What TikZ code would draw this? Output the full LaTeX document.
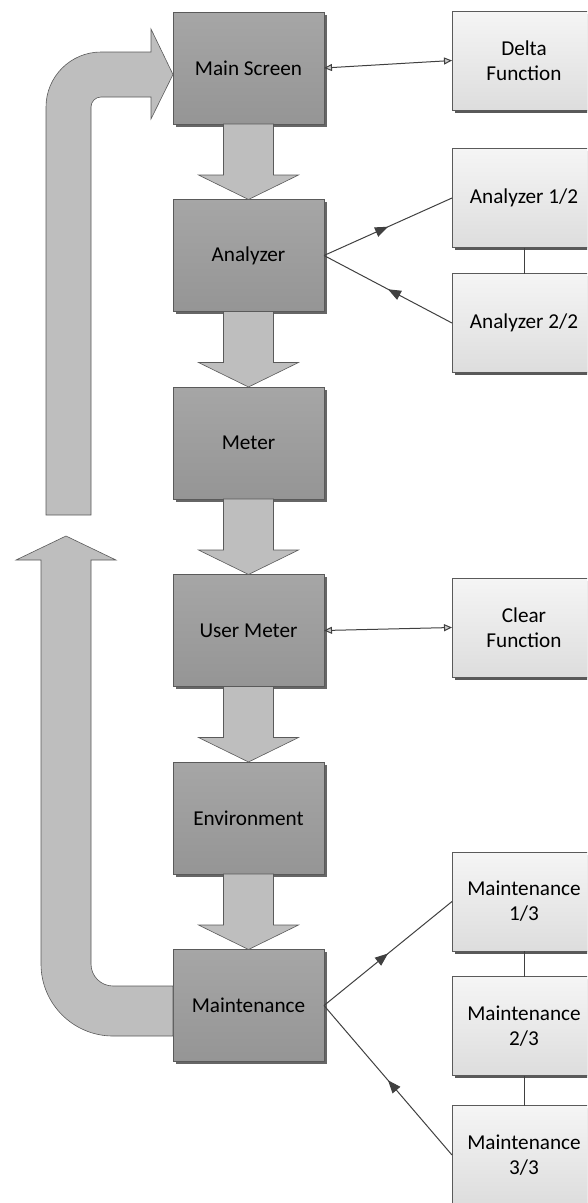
\documentclass[tikz,border=0pt]{standalone}
\usepackage{fontspec}
\setmainfont{Carlito}
\usepackage{tikz}
\usetikzlibrary{arrows.meta,positioning,calc,shadows,decorations.markings}

\definecolor{boxtop}{HTML}{A6A6A6}
\definecolor{boxbot}{HTML}{959595}
\definecolor{sidetop}{HTML}{F5F5F5}
\definecolor{sidebot}{HTML}{DDDDDD}
\definecolor{arrowfill}{HTML}{BEBEBE}
\definecolor{edgegray}{HTML}{5A5A5A}
\definecolor{linkgray}{HTML}{404040}

\begin{document}
\begin{tikzpicture}[x=1pt, y=-1pt,
        node distance=75.5pt,
        every node/.style={font=\fontsize{21.2}{25}\selectfont, align=center, outer sep=0pt},
        mainbox/.style={draw=edgegray, line width=0.6pt, top color=boxtop, bottom color=boxbot,
            minimum width=151pt, minimum height=112pt,
            drop shadow={shadow xshift=2.5pt, shadow yshift=-2.5pt, fill=black!60, opacity=1}},
        sidebox/.style={draw=edgegray, line width=0.6pt, top color=sidetop, bottom color=sidebot,
            minimum width=144pt, minimum height=99pt,
            drop shadow={shadow xshift=2.5pt, shadow yshift=-2.5pt, fill=black!65, opacity=1}},
        link/.style={draw=linkgray, line width=1pt},
        twoway/.style={{Triangle[length=8pt, width=7pt, fill=gray!40]}-{Triangle[length=8pt, width=7pt, fill=gray!40]}},
        midarrow/.style={postaction={decorate, decoration={markings,
            mark=at position 0.5 with {\arrow{Triangle[length=13pt, width=10pt]}}}}},
        bigarrow/.style={draw=edgegray, line width=0.6pt, fill=arrowfill}
    ]
  \useasboundingbox (0,0) rectangle (587,1203);
  \clip (0,0) rectangle (587,1203);

  % Nodes
  \node[mainbox] (screen) at (248.5,68) {Main Screen};
  \node[mainbox, below=of screen] (analyzer) {Analyzer};
  \node[mainbox, below=of analyzer] (meter) {Meter};
  \node[mainbox, below=of meter] (usermeter) {User Meter};
  \node[mainbox, below=of usermeter] (environ) {Environment};
  \node[mainbox, below=of environ] (maint) {Maintenance};

  \node[sidebox] (delta) at (524,60.5) {Delta\\Function};
  \node[sidebox] (anaA) at (524,198) {Analyzer 1/2};
  \node[sidebox] (anaB) at (524,323) {Analyzer 2/2};
  \node[sidebox] (clear) at (524,627.5) {Clear\\Function};
  \node[sidebox] (maintA) at (524,901.5) {Maintenance\\1/3};
  \node[sidebox] (maintB) at (524,1026) {Maintenance\\2/3};
  \node[sidebox] (maintC) at (524,1155) {Maintenance\\3/3};

  % flow down the column
  \foreach \a/\b in {screen/analyzer, analyzer/meter, meter/usermeter, usermeter/environ, environ/maint}
    \draw[bigarrow] ($(\a.south)+(-25,0)$) -- ($(\a.south)+(25,0)$) -- ($(\a.south)+(25,51)$)
      -- ($(\a.south)+(50,51)$) -- (\b.north) -- ($(\a.south)+(-50,51)$) -- ($(\a.south)+(-25,51)$) -- cycle;

  % loop back to the main screen
  \draw[bigarrow] (66,536) -- (116,560) -- (91,560) -- (91,964) arc[start angle=180, end angle=90, radius=22]
    -- (maint.west |- 0,986) -- (maint.west |- 0,1036) -- (113,1036) arc[start angle=90, end angle=180, radius=72]
    -- (41,560) -- (16,560) -- cycle;
  \draw[bigarrow] (46,515) -- (46,107) arc[start angle=180, end angle=270, radius=55] -- (151,52) -- (151,29)
    -- (screen.west |- 0,74.5) -- (151,119) -- (151,97) -- (101,97) arc[start angle=270, end angle=180, radius=10]
    -- (91,515) -- cycle;

  % side links
  \draw[link, twoway] (screen.east) -- (delta.west);
  \draw[link, twoway] (usermeter.east) -- (clear.west);
  \draw[link, midarrow] (analyzer.east) -- (anaA.west);
  \draw[link, midarrow] (anaB.west) -- (analyzer.east);
  \draw[link] (anaA.south) -- (anaB.north);
  \draw[link, midarrow] (maint.east) -- (maintA.west);
  \draw[link, midarrow] (maintC.west) -- (maint.east);
  \draw[link] (maintA.south) -- (maintB.north);
  \draw[link] (maintB.south) -- (maintC.north);
\end{tikzpicture}
\end{document}
